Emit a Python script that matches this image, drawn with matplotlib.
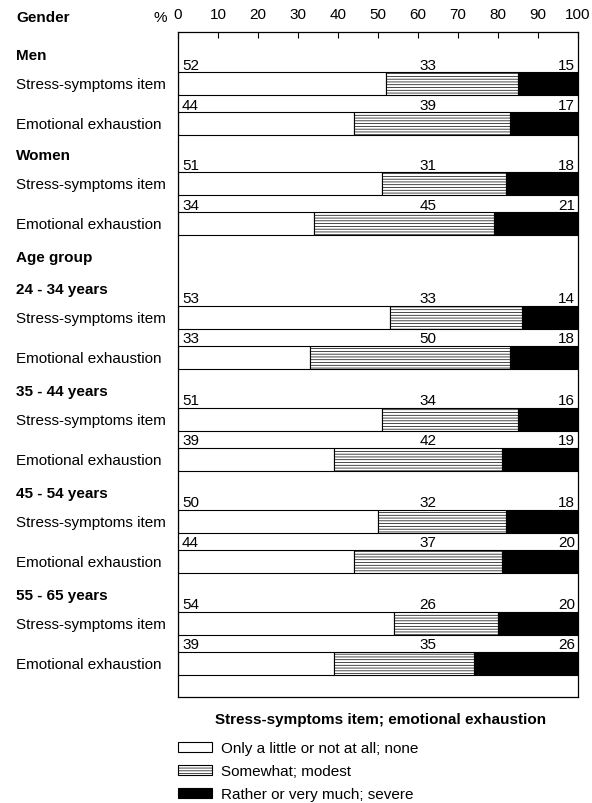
import matplotlib.pyplot as plt
from matplotlib.patches import Patch

plt.rcParams["font.family"] = ["Liberation Sans", "DejaVu Sans"]
plt.rcParams["hatch.linewidth"] = 0.5

groups = ["Men", "Women", "24 - 34 years", "35 - 44 years", "45 - 54 years", "55 - 65 years"]
items = ["Stress-symptoms item", "Emotional exhaustion"]
stress_none = [52, 51, 53, 51, 50, 54]
stress_mod = [33, 31, 33, 34, 32, 26]
stress_sev = [15, 18, 14, 16, 18, 20]
exh_none = [44, 34, 33, 39, 44, 39]
exh_mod = [39, 45, 50, 42, 37, 35]
exh_sev = [17, 21, 18, 19, 20, 26]
levels = ["Only a little or not at all; none", "Somewhat; modest", "Rather or very much; severe"]
ticks = list(range(0, 101, 10))

# layout (y in pixel-like units, inverted)
gender_headers = [56 + 100 * k for k in range(2)]
age_title_y = 258
age_headers = [290 + 102 * k for k in range(4)]
headers = gender_headers + age_headers
bar_h = 23
offsets = [28, 68]
fs = 11

fig = plt.figure(figsize=(5.92, 8.04), dpi=100)
ax = fig.add_axes([178 / 592, 1 - 698 / 804, 400 / 592, (698 - 33) / 804])
ax.set_xlim(0, 100)
ax.set_ylim(698, 33)

styles = [dict(color="white", hatch=None), dict(color="white", hatch="------"), dict(color="black", hatch=None)]
series = [(stress_none, stress_mod, stress_sev), (exh_none, exh_mod, exh_sev)]

tr = ax.get_yaxis_transform()
for g, hy in enumerate(headers):
    ax.text(-0.405, hy, groups[g], transform=tr, fontsize=fs, fontweight="bold", va="center", ha="left", clip_on=False)
    for i, (none, mod, sev) in enumerate(series):
        yc = hy + offsets[i]
        vals = [none[g], mod[g], sev[g]]
        left = 0
        for v, st in zip(vals, styles):
            ax.barh(yc, v, left=left, height=bar_h, color=st["color"], hatch=st["hatch"],
                    edgecolor="black", linewidth=0.8)
            left += v
        top = yc - bar_h / 2 - 3
        ax.text(1, top, f"{vals[0]}", fontsize=fs, ha="left", va="baseline")
        ax.text(62.5, top, f"{vals[1]}", fontsize=fs, ha="center", va="baseline")
        ax.text(99.3, top, f"{vals[2]}", fontsize=fs, ha="right", va="baseline")
        ax.text(-0.405, yc + 1, items[i], transform=tr, fontsize=fs, va="center", ha="left", clip_on=False)

ax.text(-0.405, age_title_y, "Age group", transform=tr, fontsize=fs, fontweight="bold", va="center", ha="left")
ax.text(-0.405, 18, "Gender", transform=tr, fontsize=fs, fontweight="bold", va="center", ha="left")
ax.text(-0.045, 18, "%", transform=tr, fontsize=fs, va="center", ha="center")

ax.xaxis.tick_top()
ax.set_xticks(ticks)
ax.tick_params(axis="x", direction="in", length=4, width=0.8, pad=8, labelsize=fs)
ax.set_yticks([])
for s in ax.spines.values():
    s.set_linewidth(0.9)

fig.text(215 / 592, 1 - 720 / 804, "Stress-symptoms item; emotional exhaustion", fontsize=fs,
         fontweight="bold", va="center", ha="left")
handles = [Patch(facecolor=st["color"], hatch=st["hatch"], edgecolor="black", linewidth=0.8) for st in styles]
fig.legend(handles, levels, loc="upper left", bbox_to_anchor=(178 / 592, 1 - 742 / 804), frameon=False,
           fontsize=fs, handlelength=2.2, handleheight=0.65, handletextpad=0.6, labelspacing=0.6,
           borderpad=0, borderaxespad=0)

fig.savefig("out.png", dpi=100)
